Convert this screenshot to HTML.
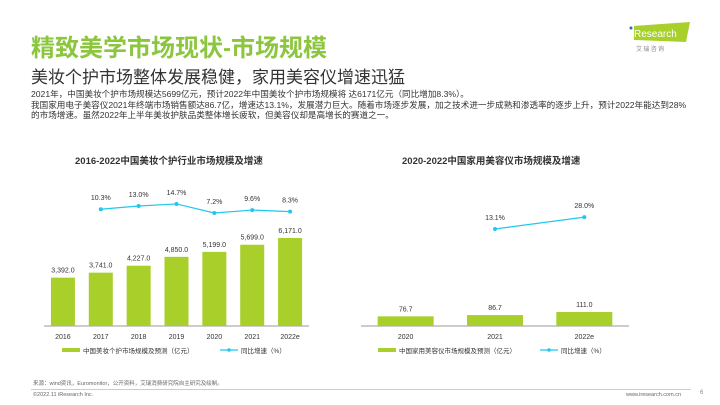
<!DOCTYPE html>
<html><head><meta charset="utf-8"><style>
body{margin:0;width:720px;height:405px;background:#fff;font-family:"Liberation Sans","Noto Sans CJK SC",sans-serif;overflow:hidden;position:relative}
.a{position:absolute;white-space:nowrap}
</style></head><body>
<div class="a" style="left:31px;top:28px;font-size:24px;color:#8cc63f;font-weight:bold">精致美学市场现状-市场规模</div>
<div class="a" style="left:628px;top:22px;width:62px;height:20px">
<svg width="62" height="30"><polygon points="6,4 62,0 58,20 6,18" fill="#a8cf2a"/><circle cx="3" cy="6" r="1.5" fill="#2b6cb0"/><text x="6" y="15" font-size="10" fill="#fff" font-family="Liberation Sans">Research</text><text x="8" y="29" font-size="6" fill="#888" font-family="Noto Sans CJK SC">艾 瑞 咨 询</text></svg></div>
<div class="a" style="left:31px;top:63px;font-size:17px;color:#333">美妆个护市场整体发展稳健，家用美容仪增速迅猛</div>
<div class="a" style="left:31px;top:89px;font-size:8.6px;line-height:10.5px;color:#333;white-space:normal;width:662px">2021年，中国美妆个护市场规模达5699亿元，预计2022年中国美妆个护市场规模将 达6171亿元（同比增加8.3%）。<br>我国家用电子美容仪2021年终端市场销售额达86.7亿，增速达13.1%，发展潜力巨大。随着市场逐步发展，加之技术进一步成熟和渗透率的逐步上升，预计2022年能达到28%的市场增速。虽然2022年上半年美妆护肤品类整体增长疲软，但美容仪却是高增长的赛道之一。</div>
<div class="a" style="left:75px;top:153px;font-size:9.5px;font-weight:bold;color:#333">2016-2022中国美妆个护行业市场规模及增速</div>
<div class="a" style="left:402px;top:153px;font-size:9.5px;font-weight:bold;color:#333">2020-2022中国家用美容仪市场规模及增速</div>
<svg class="a" style="left:0;top:0" width="720" height="405" id="ch"></svg>
<div class="a" style="left:33px;top:379px;font-size:5.5px;color:#666">来源：wind资讯，Euromonitor，公开资料，艾瑞消费研究院自主研究及绘制。</div>
<div class="a" style="left:31px;top:389px;width:660px;border-top:1px solid #ccc"></div>
<div class="a" style="left:33px;top:392px;font-size:5.5px;color:#666">©2022.11 iResearch Inc.</div>
<div class="a" style="left:626px;top:392px;font-size:5.5px;color:#666">www.iresearch.com.cn</div>
<div class="a" style="left:700px;top:390px;font-size:6px;color:#888">6</div>
<script>
const cat1=["2016","2017","2018","2019","2020","2021","2022e"];
const val1=[3392,3741,4227,4850,5199,5699,6171];
const rate1=[10.3,13.0,14.7,7.2,9.6,8.3];
const cat2=["2020","2021","2022e"];
const val2=[76.7,86.7,111.0];
const rate2=[13.1,28.0];
const svg=document.getElementById('ch');const NS='http://www.w3.org/2000/svg';
function mk(t,a,txt){const e=document.createElementNS(NS,t);for(const k in a)e.setAttribute(k,a[k]);if(txt!=null)e.textContent=txt;svg.appendChild(e);return e;}
function chart(cats,vals,rates,rOff,x0,x1,bw,ys,ry0,rs,leg1,legX,lx){
 const base=326,step=(x1-x0)/cats.length;
 const xc=i=>x0+step*(i+0.5);
 let e=mk('line',{x1:x0,x2:x1,y1:base,y2:base,stroke:'#999','stroke-width':1});
 
 cats.forEach((c,i)=>{
  const h=vals[i]*ys;
  e=mk('rect',{x:xc(i)-bw/2,y:base-h,width:bw,height:h,fill:'#a8cf2a'});
  
  e=mk('text',{x:xc(i),y:base-h-5,'font-size':7,'text-anchor':'middle',fill:'#333'},vals[i].toLocaleString('en-US',{minimumFractionDigits:1,maximumFractionDigits:1}));
  
  e=mk('text',{x:xc(i),y:base+13,'font-size':7,'text-anchor':'middle',fill:'#333'},c);
  
 });
 const pts=rates.map((r,j)=>[xc(j+rOff),ry0-r*rs]);
 e=mk('polyline',{points:pts.map(p=>p.join(',')).join(' '),fill:'none',stroke:'#1ec8f0','stroke-width':1.2});
 
 pts.forEach((p,j)=>{
  e=mk('circle',{cx:p[0],cy:p[1],r:2,fill:'#1ec8f0'});
  
  e=mk('text',{x:p[0],y:p[1]-9,'font-size':7,'text-anchor':'middle',fill:'#333'},rates[j].toFixed(1)+'%');
  
 });
 e=mk('rect',{x:legX,y:348,width:18,height:4,fill:'#a8cf2a'});
 
 e=mk('text',{x:legX+21,y:353,'font-size':6.5,fill:'#333'},leg1);
 
 e=mk('line',{x1:lx,x2:lx+18,y1:350,y2:350,stroke:'#1ec8f0','stroke-width':1.2});
 
 e=mk('circle',{cx:lx+9,cy:350,r:1.8,fill:'#1ec8f0'});
 
 e=mk('text',{x:lx+21,y:353,'font-size':6.5,fill:'#333'},'同比增速（%）');
 
}
chart(cat1,val1,rate1,1,44,309,24,0.01426,221.6,1.2,'中国美妆个护市场规模及预测（亿元）',62,220);
chart(cat2,val2,rate2,1,361,629,56,0.126,239.5,0.8,'中国家用美容仪市场规模及预测（亿元）',378,540);
</script>
</body></html>
